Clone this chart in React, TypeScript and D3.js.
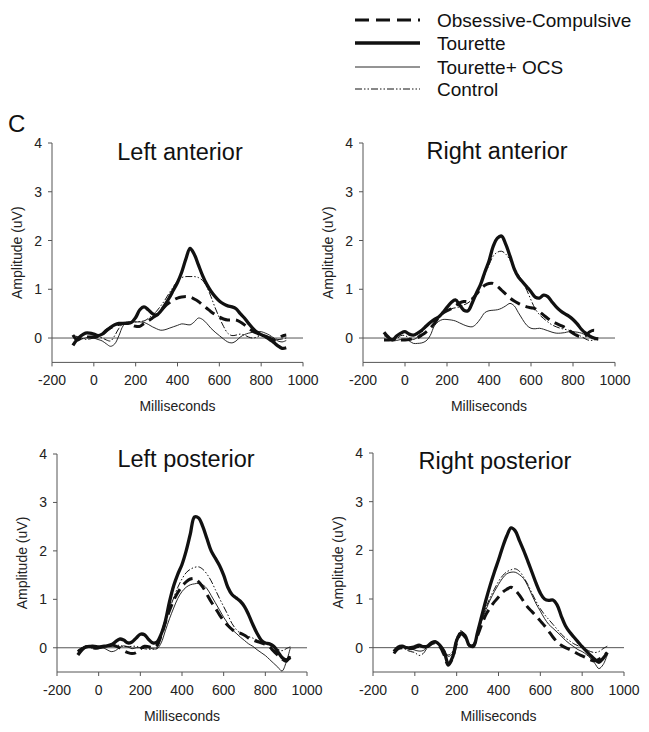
import React from 'react';
import * as d3 from 'd3';

const TIMES = [-100,-80,-60,-40,-20,0,20,40,60,80,100,120,140,160,180,200,220,240,260,280,300,320,340,360,380,400,420,440,460,480,500,520,540,560,580,600,620,640,660,680,700,720,740,760,780,800,820,840,860,880,900,920];
const X_TICKS = [-200, 0, 200, 400, 600, 800, 1000];
const Y_TICKS = [0, 1, 2, 3, 4];
const SERIES = ['Obsessive-Compulsive', 'Tourette', 'Tourette+ OCS', 'Control'];
const TITLES = ['Left anterior', 'Right anterior', 'Left posterior', 'Right posterior'];

// Left anterior
const LA_OC = [0.06,-0.04,0.0,0.02,0.02,0.02,0.03,0.08,0.16,0.21,0.26,0.28,0.3,0.3,0.27,0.24,0.24,0.3,0.35,0.41,0.47,0.56,0.65,0.72,0.78,0.82,0.84,0.85,0.84,0.8,0.75,0.68,0.61,0.54,0.48,0.43,0.39,0.37,0.37,0.37,0.33,0.27,0.2,0.14,0.1,0.06,0.03,0.0,-0.04,-0.02,0.04,0.06];
const LA_TOU = [-0.15,-0.03,0.05,0.1,0.1,0.08,0.05,0.08,0.15,0.22,0.27,0.3,0.3,0.3,0.32,0.42,0.58,0.64,0.58,0.5,0.47,0.55,0.68,0.82,0.98,1.14,1.35,1.62,1.84,1.72,1.5,1.28,1.1,0.96,0.85,0.76,0.7,0.66,0.64,0.6,0.5,0.41,0.3,0.2,0.12,0.07,0.03,-0.03,-0.09,-0.16,-0.21,-0.2];
const LA_TOCS = [0.02,0.0,-0.02,0.0,0.02,0.0,-0.03,-0.06,-0.12,-0.17,-0.12,0.05,0.25,0.32,0.33,0.33,0.33,0.32,0.28,0.23,0.19,0.16,0.17,0.2,0.23,0.26,0.29,0.28,0.27,0.33,0.41,0.38,0.3,0.2,0.12,0.05,-0.02,-0.08,-0.1,-0.06,0.02,0.07,0.1,0.12,0.13,0.13,0.1,0.06,0.0,-0.06,-0.08,-0.05];
const LA_CTRL = [0.05,0.03,0.0,-0.03,-0.02,0.0,0.02,0.0,-0.04,-0.06,0.05,0.2,0.3,0.33,0.33,0.33,0.34,0.35,0.4,0.47,0.55,0.66,0.78,0.92,1.05,1.17,1.24,1.26,1.26,1.26,1.24,1.18,1.05,0.85,0.62,0.42,0.24,0.1,0.05,0.06,0.08,0.06,0.02,0.0,0.02,0.06,0.06,0.03,0.0,-0.03,-0.02,0.0];

// Right anterior
const RA_OC = [-0.04,-0.04,-0.03,-0.03,-0.04,-0.04,-0.03,-0.01,0.01,0.06,0.12,0.2,0.3,0.42,0.51,0.56,0.6,0.66,0.72,0.75,0.75,0.8,0.9,1.0,1.08,1.12,1.12,1.06,0.98,0.9,0.82,0.76,0.71,0.67,0.64,0.62,0.6,0.54,0.47,0.4,0.34,0.3,0.26,0.22,0.16,0.1,0.05,0.03,0.05,0.13,0.16,0.13];
const RA_TOU = [0.12,0.02,-0.04,0.04,0.1,0.13,0.08,0.06,0.1,0.16,0.24,0.32,0.38,0.43,0.52,0.63,0.73,0.78,0.68,0.57,0.56,0.72,0.92,1.1,1.35,1.58,1.88,2.05,2.09,1.92,1.68,1.42,1.25,1.15,1.05,0.95,0.84,0.82,0.88,0.85,0.74,0.64,0.56,0.5,0.45,0.38,0.29,0.18,0.1,0.04,0.0,-0.02];
const RA_TOCS = [-0.02,-0.04,-0.06,-0.05,-0.03,-0.02,-0.06,-0.11,-0.11,-0.1,-0.06,0.05,0.25,0.34,0.38,0.38,0.37,0.35,0.31,0.27,0.24,0.23,0.29,0.4,0.52,0.56,0.57,0.58,0.61,0.66,0.71,0.66,0.52,0.38,0.26,0.2,0.19,0.2,0.18,0.15,0.12,0.1,0.1,0.11,0.13,0.13,0.12,0.1,0.06,0.03,-0.02,-0.04];
const RA_CTRL = [0.05,0.0,-0.05,-0.02,0.05,0.05,0.0,-0.03,0.02,0.12,0.22,0.3,0.36,0.42,0.5,0.56,0.6,0.62,0.64,0.68,0.72,0.8,0.95,1.12,1.3,1.5,1.68,1.76,1.78,1.72,1.6,1.45,1.3,1.15,0.98,0.78,0.6,0.48,0.4,0.33,0.27,0.23,0.2,0.18,0.16,0.13,0.08,0.03,-0.02,-0.05,-0.04,-0.03];

// Left posterior
const LP_OC = [-0.08,-0.02,0.02,0.02,0.0,0.0,0.02,0.04,0.06,0.04,0.0,-0.06,-0.1,-0.12,-0.1,-0.02,0.03,0.02,0.0,0.05,0.25,0.52,0.77,0.98,1.14,1.27,1.36,1.42,1.43,1.36,1.25,1.1,0.95,0.82,0.68,0.56,0.46,0.38,0.32,0.3,0.26,0.2,0.16,0.13,0.1,0.07,0.02,-0.07,-0.15,-0.23,-0.28,-0.15];
const LP_TOU = [-0.15,-0.04,0.02,0.03,0.03,0.02,0.03,0.04,0.06,0.12,0.18,0.16,0.1,0.12,0.2,0.28,0.27,0.17,0.1,0.12,0.28,0.55,0.95,1.28,1.52,1.72,2.0,2.35,2.7,2.68,2.5,2.25,2.0,1.85,1.7,1.5,1.25,1.1,1.03,0.96,0.85,0.68,0.48,0.3,0.16,0.1,0.08,0.03,-0.08,-0.2,-0.25,-0.2];
const LP_TOCS = [-0.06,-0.02,0.0,0.0,-0.03,-0.02,0.0,-0.04,-0.08,-0.06,0.0,0.04,0.02,-0.02,0.0,0.0,0.0,0.0,-0.02,-0.02,0.1,0.35,0.6,0.82,1.02,1.16,1.25,1.3,1.32,1.33,1.3,1.22,1.08,0.93,0.78,0.63,0.5,0.38,0.3,0.22,0.15,0.08,0.03,-0.04,-0.1,-0.16,-0.24,-0.32,-0.4,-0.48,-0.3,0.0];
const LP_CTRL = [-0.05,0.0,0.02,0.02,0.0,0.02,0.03,0.02,0.03,0.05,0.05,0.03,0.02,0.03,0.03,0.0,-0.02,-0.03,-0.03,0.0,0.25,0.55,0.8,1.03,1.25,1.42,1.55,1.62,1.66,1.67,1.62,1.52,1.38,1.2,1.02,0.85,0.68,0.5,0.38,0.3,0.26,0.23,0.2,0.16,0.12,0.08,0.05,0.02,-0.03,-0.06,-0.02,0.02];

// Right posterior
const RP_OC = [-0.12,-0.02,0.0,-0.02,-0.02,0.0,0.03,0.0,0.02,0.08,0.1,0.02,-0.15,-0.36,-0.22,0.1,0.28,0.22,0.05,0.05,0.25,0.48,0.68,0.82,0.94,1.04,1.14,1.2,1.24,1.18,1.08,0.95,0.83,0.74,0.65,0.55,0.45,0.34,0.22,0.12,0.05,0.0,-0.04,-0.08,-0.13,-0.17,-0.21,-0.25,-0.27,-0.24,-0.18,-0.1];
const RP_TOU = [-0.08,0.01,0.03,0.0,0.0,0.02,0.05,0.02,0.03,0.1,0.12,0.05,-0.08,-0.33,-0.2,0.15,0.3,0.25,0.05,0.03,0.32,0.65,0.98,1.28,1.55,1.8,2.07,2.3,2.46,2.4,2.2,2.0,1.78,1.55,1.32,1.12,1.0,0.97,0.98,0.88,0.65,0.45,0.32,0.22,0.12,0.02,-0.07,-0.16,-0.24,-0.3,-0.22,-0.1];
const RP_TOCS = [-0.05,0.0,0.02,0.0,-0.02,-0.05,-0.07,-0.06,0.02,0.1,0.12,0.05,-0.05,-0.18,-0.12,0.15,0.3,0.22,0.05,0.05,0.3,0.55,0.78,0.98,1.15,1.3,1.43,1.52,1.55,1.55,1.5,1.42,1.27,1.08,0.9,0.75,0.6,0.48,0.4,0.32,0.24,0.15,0.08,0.02,-0.04,-0.08,-0.14,-0.22,-0.32,-0.43,-0.35,-0.15];
const RP_CTRL = [-0.1,-0.02,0.0,-0.05,-0.08,-0.1,-0.16,-0.12,0.0,0.08,0.1,0.02,-0.1,-0.15,-0.08,0.2,0.35,0.25,0.05,0.05,0.3,0.58,0.82,1.03,1.2,1.36,1.48,1.56,1.6,1.62,1.57,1.45,1.3,1.12,0.95,0.8,0.68,0.58,0.48,0.38,0.28,0.2,0.14,0.08,0.04,0.0,-0.04,-0.08,-0.1,-0.08,-0.02,0.03];

const PANEL_DATA = [
  [LA_OC, LA_TOU, LA_TOCS, LA_CTRL],
  [RA_OC, RA_TOU, RA_TOCS, RA_CTRL],
  [LP_OC, LP_TOU, LP_TOCS, LP_CTRL],
  [RP_OC, RP_TOU, RP_TOCS, RP_CTRL],
];

const STYLES = [
  { w: 3, dash: '11,6' },
  { w: 3.3, dash: undefined },
  { w: 0.9, dash: undefined },
  { w: 1, dash: '7,2,1.5,2,1.5,2' },
];
const DRAW_ORDER = [2, 3, 0, 1];

const LAYOUT = [
  { x0: 52, x1: 303, yTop: 143, yBot: 362.4, tx: 180, ty: 160 },
  { x0: 363, x1: 615, yTop: 143, yBot: 362.4, tx: 497, ty: 159 },
  { x0: 57, x1: 307, yTop: 454, yBot: 672, tx: 186, ty: 467 },
  { x0: 373, x1: 624, yTop: 453, yBot: 672, tx: 495, ty: 469 },
];

const FONT = "'Liberation Sans', Arial, Helvetica, sans-serif";
const INK = '#111';
const AXIS = '#555';

function Panel({ idx }: { idx: number }) {
  const L = LAYOUT[idx];
  const x = d3.scaleLinear().domain([-200, 1000]).range([L.x0, L.x1]);
  const y = d3.scaleLinear().domain([-0.5, 4]).range([L.yBot, L.yTop]);
  const data = PANEL_DATA[idx];
  const clipId = `clip-${idx}`;
  return (
    <g>
      <defs>
        <clipPath id={clipId}>
          <rect x={L.x0} y={L.yTop - 5} width={L.x1 - L.x0 + 10} height={L.yBot - L.yTop + 5} />
        </clipPath>
      </defs>
      <line x1={x(-200)} x2={x(1000)} y1={y(0)} y2={y(0)} stroke={AXIS} strokeWidth={1} />
      <line x1={L.x0} x2={L.x0} y1={y(4)} y2={y(-0.5)} stroke={AXIS} strokeWidth={1} />
      {Y_TICKS.map((t) => (
        <g key={'y' + t}>
          <line x1={L.x0 - 4} x2={L.x0} y1={y(t)} y2={y(t)} stroke={AXIS} strokeWidth={1} />
          <text x={L.x0 - 10} y={y(t)} dy="0.36em" textAnchor="end" fontSize={14} fontFamily={FONT} fill="#222">{t}</text>
        </g>
      ))}
      <line x1={x(-200)} x2={x(1000)} y1={L.yBot} y2={L.yBot} stroke={AXIS} strokeWidth={1} />
      {X_TICKS.map((t) => (
        <g key={'x' + t}>
          <line x1={x(t)} x2={x(t)} y1={L.yBot} y2={L.yBot + 4} stroke={AXIS} strokeWidth={1} />
          <text x={x(t)} y={L.yBot + 23} textAnchor="middle" fontSize={14} fontFamily={FONT} fill="#222">{t}</text>
        </g>
      ))}
      <text x={(L.x0 + L.x1) / 2} y={L.yBot + 49} textAnchor="middle" fontSize={14} fontFamily={FONT} fill="#222">Milliseconds</text>
      <text transform={`translate(${L.x0 - 35},${(L.yTop + L.yBot) / 2}) rotate(-90)`} dy="0.35em" textAnchor="middle" fontSize={14} fontFamily={FONT} fill="#222">Amplitude (uV)</text>
      <text x={L.tx} y={L.ty} textAnchor="middle" fontSize={23.5} fontFamily={FONT} fill="#111">{TITLES[idx]}</text>
      <g clipPath={`url(#${clipId})`}>
        {DRAW_ORDER.map((s) => {
          const pts = TIMES.map((t, i) => [t, data[s][i]] as [number, number]);
          const line = d3.line<[number, number]>().x((d) => x(d[0])).y((d) => y(d[1])).curve(d3.curveCatmullRom.alpha(0.5));
          return (
            <path key={s} d={line(pts) || ''} fill="none" stroke={INK} strokeWidth={STYLES[s].w} strokeDasharray={STYLES[s].dash} strokeLinejoin="round" strokeLinecap="butt" />
          );
        })}
      </g>
    </g>
  );
}

const LEGEND_ROWS_Y = [20, 43, 67, 89];

export default function App() {
  return (
    <div style={{ position: 'absolute', left: 0, top: 0 }}>
      <svg width={649} height={732} style={{ display: 'block', background: '#fff' }}>
        <rect width={649} height={732} fill="#fff" />
        {SERIES.map((name, i) => (
          <g key={name}>
            <line x1={355} x2={420} y1={LEGEND_ROWS_Y[i]} y2={LEGEND_ROWS_Y[i]} stroke={INK} strokeWidth={STYLES[i].w} strokeDasharray={i === 0 ? '14,7' : STYLES[i].dash} />
            <text x={437} y={LEGEND_ROWS_Y[i]} dy="0.36em" fontSize={19} fontFamily={FONT} fill="#111">{name}</text>
          </g>
        ))}
        <text x={8} y={132} fontSize={24} fontFamily={FONT} fill="#111">C</text>
        {[0, 1, 2, 3].map((i) => <Panel key={i} idx={i} />)}
      </svg>
    </div>
  );
}
